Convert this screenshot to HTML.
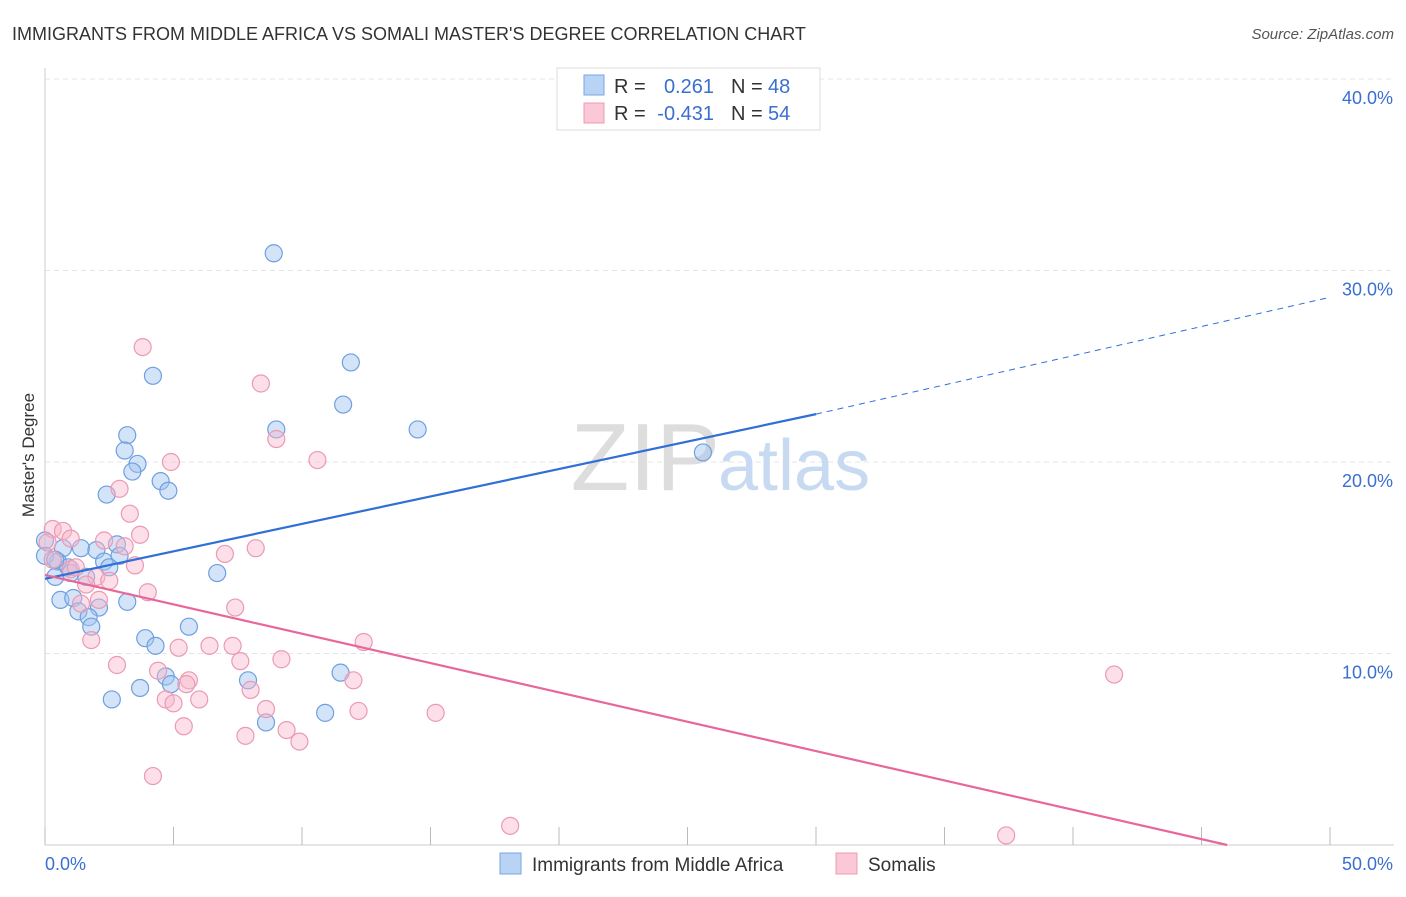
<!DOCTYPE html>
<html><head><meta charset="utf-8"><style>
body{margin:0;background:#fff;font-family:"Liberation Sans",sans-serif}
svg text{font-family:"Liberation Sans",sans-serif}
</style></head><body>
<svg width="1406" height="892" xmlns="http://www.w3.org/2000/svg">
<text x="12" y="40" font-size="18" fill="#333">IMMIGRANTS FROM MIDDLE AFRICA VS SOMALI MASTER'S DEGREE CORRELATION CHART</text>
<text x="1394" y="39" font-size="15" fill="#555" font-style="italic" text-anchor="end">Source: ZipAtlas.com</text>
<g id="grid"></g>
<text x="720" y="490" font-size="96" fill="#ddd" text-anchor="end" font-family="Liberation Serif">ZIP</text>
<text x="718" y="490" font-size="72" fill="#c8daf2">atlas</text>
<text x="34" y="455" font-size="17" fill="#333" text-anchor="middle" transform="rotate(-90 34 455)">Master's Degree</text>
<g id="pts"></g>
<g id="lines"></g>
<g>
<rect x="557" y="68" width="263" height="62" fill="#fff" stroke="#ddd"/>
<rect x="584" y="75" width="20" height="20" fill="#b9d3f5" stroke="#7aa6e4"/>
<rect x="584" y="103" width="20" height="20" fill="#fac8d6" stroke="#ec9bb3"/>
<text x="614" y="93" font-size="20" fill="#333">R = </text><text x="714" y="93" font-size="20" fill="#3a6fd0" text-anchor="end">0.261</text>
<text x="731" y="93" font-size="20" fill="#333">N = </text><text x="768" y="93" font-size="20" fill="#3a6fd0">48</text>
<text x="614" y="120" font-size="20" fill="#333">R = </text><text x="714" y="120" font-size="20" fill="#3a6fd0" text-anchor="end">-0.431</text>
<text x="731" y="120" font-size="20" fill="#333">N = </text><text x="768" y="120" font-size="20" fill="#3a6fd0">54</text>
</g>
<g>
<rect x="500" y="853" width="21" height="21" fill="#b9d3f5" stroke="#7aa6e4"/>
<text x="532" y="871" font-size="19" fill="#333">Immigrants from Middle Africa</text>
<rect x="836" y="853" width="21" height="21" fill="#fac8d6" stroke="#ec9bb3"/>
<text x="868" y="871" font-size="19" fill="#333">Somalis</text>
</g>
</svg>
<script>
const xTicks=[0,50];
const yTicks=[10,20,30,40];
const blueX=[8.9,11.9,4.2,11.6,14.5,9.0,3.2,3.1,3.6,3.4,25.6,4.5,4.8,2.4,0.0,0.7,1.4,2.0,2.8,2.9,2.3,2.5,0.5,0.9,0.4,1.0,1.6,0.6,1.1,3.2,2.1,1.3,1.7,1.8,6.7,5.6,3.9,4.3,4.7,4.9,3.7,7.9,11.5,2.6,8.6,10.9,0.0,0.4];
const blueY=[30.9,25.2,24.5,23.0,21.7,21.7,21.4,20.6,19.9,19.5,20.5,19.0,18.5,18.3,15.9,15.5,15.5,15.4,15.7,15.1,14.8,14.5,14.8,14.5,14.0,14.2,14.0,12.8,12.9,12.7,12.4,12.2,11.9,11.4,14.2,11.4,10.8,10.4,8.8,8.4,8.2,8.6,9.0,7.6,6.4,6.9,15.1,14.9];
const pinkX=[3.8,8.4,9.0,10.6,4.9,2.9,3.3,0.3,0.7,1.0,0.1,3.7,2.3,3.1,8.2,7.0,0.3,3.5,1.0,2.0,2.5,1.6,4.0,2.1,1.4,7.4,1.8,12.4,5.2,6.4,7.3,9.2,7.6,2.8,4.4,5.6,5.5,12.0,8.0,4.7,5.0,6.0,8.6,12.2,15.2,5.4,7.8,9.4,9.9,4.2,41.6,18.1,37.4,1.2];
const pinkY=[26.0,24.1,21.2,20.1,20.0,18.6,17.3,16.5,16.4,16.0,15.8,16.2,15.9,15.6,15.5,15.2,14.9,14.6,14.4,14.0,13.8,13.6,13.2,12.8,12.6,12.4,10.7,10.6,10.3,10.4,10.4,9.7,9.6,9.4,9.1,8.6,8.4,8.6,8.1,7.6,7.4,7.6,7.1,7.0,6.9,6.2,5.7,6.0,5.4,3.6,8.9,1.0,0.5,14.5];
const X=v=>45+v*25.7, Y=v=>845-v*19.15;
const NS="http://www.w3.org/2000/svg";
function mk(t,a,p){const e=document.createElementNS(NS,t);for(const k in a)e.setAttribute(k,a[k]);p.appendChild(e);return e;}
const grid=document.getElementById('grid');
yTicks.forEach(t=>{const l=mk('line',{x1:45,x2:1394,y1:Y(t),y2:Y(t),stroke:'#e4e4e4','stroke-dasharray':'5,4'},grid);


const tx=mk('text',{x:1393,y:Y(t)+25,'font-size':18,fill:'#3a6fd0','text-anchor':'end'},grid);tx.textContent=t.toFixed(1)+'%';

});
const ax=mk('line',{x1:45,x2:1394,y1:845,y2:845,stroke:'#ccc'},grid);


const ay=mk('line',{x1:45,x2:45,y1:68,y2:845,stroke:'#ccc'},grid);


for(let i=0;i<=10;i++){const t=mk('line',{x1:X(i*5),x2:X(i*5),y1:827,y2:845,stroke:'#bbb'},grid);

}
xTicks.forEach((t,i)=>{const tx=mk('text',{x:i?1393:45,y:870,'font-size':18,fill:'#3a6fd0','text-anchor':i?'end':'start'},grid);tx.textContent=t.toFixed(1)+'%';

});
const pts=document.getElementById('pts');
blueX.forEach((v,i)=>{const c=mk('circle',{cx:X(v),cy:Y(blueY[i]),r:8.5,fill:'rgba(160,195,240,0.45)',stroke:'#6f9fe0','stroke-width':1.2},pts);

});
pinkX.forEach((v,i)=>{const c=mk('circle',{cx:X(v),cy:Y(pinkY[i]),r:8.5,fill:'rgba(248,185,205,0.45)',stroke:'#eb9ab3','stroke-width':1.2},pts);

});
const L=document.getElementById('lines');
const b1=mk('line',{x1:X(0),y1:Y(13.9),x2:X(30),y2:Y(22.5),stroke:'#2f6fd6','stroke-width':2.2},L);


const b2=mk('line',{x1:X(30),y1:Y(22.5),x2:X(50),y2:Y(28.6),stroke:'#2f6fd6','stroke-width':1,'stroke-dasharray':'6,5'},L);


const p1=mk('line',{x1:X(0),y1:Y(14.1),x2:X(46),y2:Y(0),stroke:'#e8679a','stroke-width':2.2},L);


</script>
</body></html>
